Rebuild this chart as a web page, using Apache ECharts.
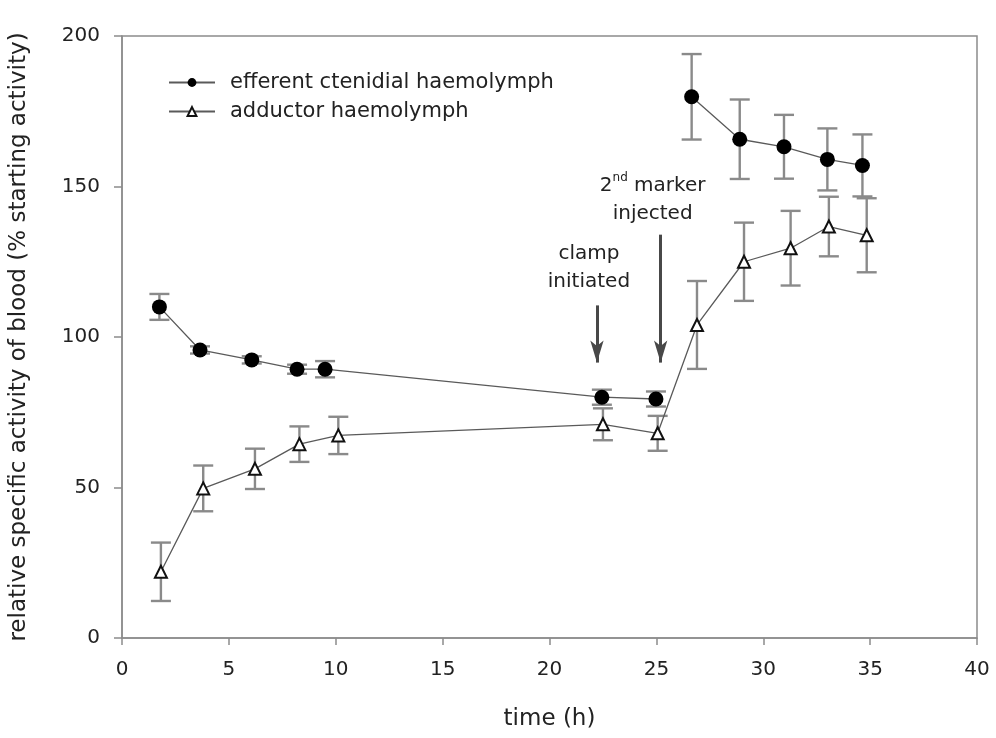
<!DOCTYPE html>
<html><head><meta charset="utf-8">
<script src="https://cdn.jsdelivr.net/npm/echarts@6/dist/echarts.min.js"></script>
<style>html,body{margin:0;padding:0;background:#fff}#c{width:996px;height:738px}</style>
</head><body><div id="c"></div>
<script>
var xTicks = [0,5,10,15,20,25,30,35,40];
var yTicks = [0,50,100,150,200];
var effX   = [1.75, 3.65, 6.07, 8.19, 9.5, 22.45, 24.98, 26.65, 28.9, 30.97, 33.0, 34.64];
var effY   = [110, 95.7, 92.4, 89.3, 89.3, 80.0, 79.4, 179.8, 165.7, 163.2, 159.0, 157.0];
var effErr = [4.3, 1.2, 1.2, 1.5, 2.7, 2.5, 2.5, 14.2, 13.2, 10.6, 10.3, 10.3];
var effBreakAfter = 6;
var addX   = [1.82, 3.8, 6.22, 8.3, 10.12, 22.5, 25.06, 26.9, 29.1, 31.28, 33.07, 34.84];
var addY   = [22.0, 49.7, 56.2, 64.4, 67.3, 71.0, 68.0, 104.0, 125.0, 129.5, 136.7, 133.8];
var addErr = [9.7, 7.6, 6.7, 5.9, 6.2, 5.3, 5.8, 14.6, 13.0, 12.4, 9.9, 12.3];
var arrows = [
  {x: 22.22, from: 110.5, to: 91.5, lines: ['clamp', 'initiated']},
  {x: 25.2, from: 134, to: 91.5, lines: ['2{sup|nd} marker', 'injected']}
];
var legendNames = ['efferent ctenidial haemolymph', 'adductor haemolymph'];

var FONT = 'DejaVu Sans, Verdana, sans-serif';
var TXT = '#222';
var chart = echarts.init(document.getElementById('c'));

function pairs(xs, ys, breakAfter) {
  var out = [];
  for (var i = 0; i < xs.length; i++) {
    out.push([xs[i], ys[i]]);
    if (i === breakAfter) out.push([ (xs[i]+xs[i+1])/2, '-' ]);
  }
  return out;
}
function errData(xs, ys, es) {
  return xs.map(function (x, i) { return [x, ys[i] - es[i], ys[i] + es[i]]; });
}
function errRender(params, api) {
  var x = api.value(0);
  var lo = api.coord([x, api.value(1)]);
  var hi = api.coord([x, api.value(2)]);
  var w = 10;
  var st = {stroke: '#8a8a8a', lineWidth: 2.4};
  return {type: 'group', children: [
    {type: 'line', shape: {x1: lo[0], y1: lo[1], x2: hi[0], y2: hi[1]}, style: st},
    {type: 'line', shape: {x1: lo[0]-w, y1: lo[1], x2: lo[0]+w, y2: lo[1]}, style: st},
    {type: 'line', shape: {x1: hi[0]-w, y1: hi[1], x2: hi[0]+w, y2: hi[1]}, style: st}
  ]};
}

var option = {
  animation: false,
  backgroundColor: '#fff',
  grid: {left: 122, right: 19, top: 36, bottom: 100, show: true, borderColor: '#8c8c8c', borderWidth: 1.5},
  legend: {
    left: 163, top: 67, orient: 'vertical', itemGap: 8, itemWidth: 46, itemHeight: 11,
    textStyle: {fontFamily: FONT, fontSize: 21, color: TXT, padding: [0, 0, 0, 10]},
    data: [
      {name: legendNames[0]},
      {name: legendNames[1]}
    ]
  },
  xAxis: {
    type: 'value', min: 0, max: 40, interval: 5,
    name: 'time (h)', nameLocation: 'middle', nameGap: 70,
    nameTextStyle: {fontFamily: FONT, fontSize: 23, color: TXT},
    axisLine: {lineStyle: {color: '#8c8c8c', width: 1.5}},
    axisTick: {show: true, length: 7, lineStyle: {color: '#8c8c8c', width: 1.5}},
    axisLabel: {fontFamily: FONT, fontSize: 20, color: TXT, margin: 22,
      formatter: function (v) { return xTicks.indexOf(v) >= 0 ? String(v) : ''; }},
    splitLine: {show: false}
  },
  yAxis: {
    type: 'value', min: 0, max: 200, interval: 50,
    name: 'relative specific activity of blood (% starting activity)', nameLocation: 'middle', nameGap: 91,
    nameTextStyle: {fontFamily: FONT, fontSize: 23, color: TXT},
    axisLine: {lineStyle: {color: '#8c8c8c', width: 1.5}},
    axisTick: {show: true, length: 8, lineStyle: {color: '#8c8c8c', width: 1.5}},
    axisLabel: {fontFamily: FONT, fontSize: 20, color: TXT, margin: 22,
      formatter: function (v) { return yTicks.indexOf(v) >= 0 ? String(v) : ''; }},
    splitLine: {show: false}
  },
  series: [
    {type: 'custom', renderItem: errRender, data: errData(effX, effY, effErr), z: 1, silent: true},
    {type: 'custom', renderItem: errRender, data: errData(addX, addY, addErr), z: 1, silent: true},
    {
      name: legendNames[1], type: 'line', data: pairs(addX, addY, -1), z: 3,
      symbol: 'triangle', symbolSize: 12,
      lineStyle: {color: '#5a5a5a', width: 1.3},
      itemStyle: {color: '#fff', borderColor: '#111', borderWidth: 2}
    },
    {
      name: legendNames[0], type: 'line', data: pairs(effX, effY, effBreakAfter), z: 4,
      connectNulls: false,
      symbol: 'circle', symbolSize: 15,
      lineStyle: {color: '#5a5a5a', width: 1.3},
      itemStyle: {color: '#000', borderColor: '#000', borderWidth: 0},
      markLine: {
        silent: true, symbol: ['none', 'arrow'], symbolSize: [10, 22],
        lineStyle: {color: '#484848', width: 3, type: 'solid'},
        label: {show: false},
        data: arrows.map(function (a) { return [{coord: [a.x, a.from]}, {coord: [a.x, a.to]}]; })
      }
    }
  ]
};
chart.setOption(option);

var g = [];
arrows.forEach(function (a, i) {
  var p = chart.convertToPixel({gridIndex: 0}, [a.x, a.from]);
  g.push({
    type: 'text', x: p[0] - 8, y: p[1] - (i === 1 ? 7 : 10),
    style: {
      text: a.lines.join('\n'), align: 'center', verticalAlign: 'bottom',
      fontFamily: FONT, fontSize: 20, fill: TXT, lineHeight: 28,
      rich: {sup: {fontSize: 12, verticalAlign: 'top', padding: [0, 0, 12, 0], fill: TXT, fontFamily: FONT}}
    }
  });
});
chart.setOption({graphic: g});
</script></body></html>
